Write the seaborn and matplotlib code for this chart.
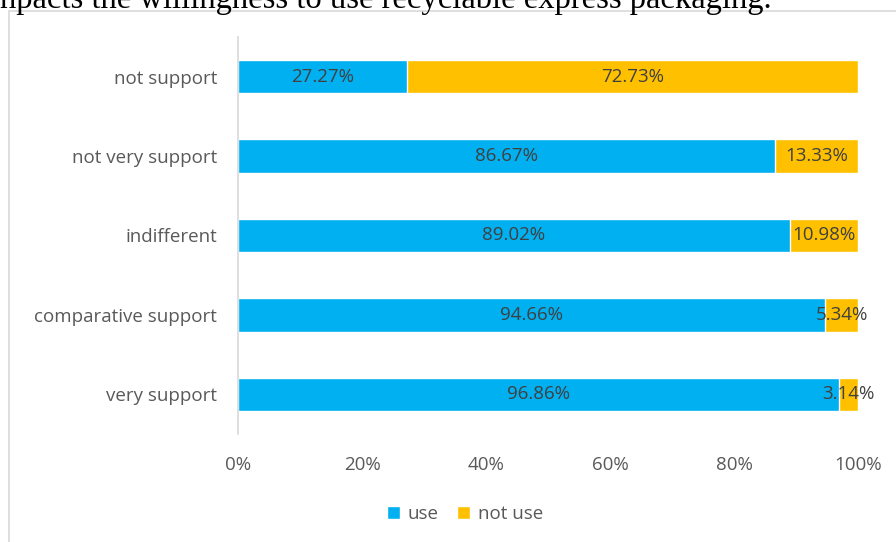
import matplotlib
matplotlib.use("Agg")
import matplotlib.pyplot as plt
from matplotlib.patches import Patch
import seaborn as sns
import pandas as pd

# Support level categories (top to bottom)
categories = ["not support", "not very support", "indifferent",
              "comparative support", "very support"]
use_pct = [27.27, 86.67, 89.02, 94.66, 96.86]
not_use_pct = [72.73, 13.33, 10.98, 5.34, 3.14]
tick_labels = ["0%", "20%", "40%", "60%", "80%", "100%"]

BLUE = "#00B0F0"
ORANGE = "#FFC000"
LABEL_GRAY = "#595959"
VALUE_GRAY = "#404040"

sns.set_theme(style="white")
plt.rcParams["font.family"] = ["Open Sans", "DejaVu Sans"]

df = pd.DataFrame({
    "category": categories,
    "use": use_pct,
    "not use": not_use_pct,
})
df["total"] = df["use"] + df["not use"]

fig = plt.figure(figsize=(8.96, 5.42), dpi=100)

# Caption line above the chart frame
fig.text(0.0, 1 - 8 / 542, "npacts the willingness to use recyclable express packaging.",
         family="Liberation Serif", fontsize=23.5, color="black",
         ha="left", va="baseline")

# Chart frame
frame = plt.Rectangle((9 / 896, -0.02), 1.0, 1 - 11 / 542 + 0.02,
                      transform=fig.transFigure, fill=False,
                      edgecolor="#D9D9D9", linewidth=1.2)
fig.patches.append(frame)

ax = fig.add_axes([238 / 896, 108 / 542, 620 / 896, 397 / 542])

# Stacked bars: full-length "not use" underneath, "use" drawn over it
sns.barplot(data=df, y="category", x="total", order=categories,
            color=ORANGE, width=0.42, orient="h", ax=ax, saturation=1)
sns.barplot(data=df, y="category", x="use", order=categories,
            color=BLUE, width=0.42, orient="h", ax=ax, saturation=1)

ax.set_xlim(0, 100)
ax.set_ylim(4.5, -0.5)
ax.set_xticks([0, 20, 40, 60, 80, 100])
ax.set_xticklabels(tick_labels)
ax.set_xlabel("")
ax.set_ylabel("")

for side in ["top", "right", "bottom"]:
    ax.spines[side].set_visible(False)
ax.spines["left"].set_color("#D9D9D9")
ax.spines["left"].set_linewidth(1.2)

ax.tick_params(axis="both", length=0, labelsize=13.5, colors=LABEL_GRAY)
ax.tick_params(axis="y", pad=15)
ax.tick_params(axis="x", pad=16)

# Value labels centred in each segment
for i, (u, n) in enumerate(zip(use_pct, not_use_pct)):
    ax.text(u / 2, i, f"{u:.2f}%", ha="center", va="center",
            fontsize=13.5, color=VALUE_GRAY)
    ax.text(u + n / 2, i, f"{n:.2f}%", ha="center", va="center",
            fontsize=13.5, color=VALUE_GRAY)

handles = [Patch(facecolor=BLUE, label="use"),
           Patch(facecolor=ORANGE, label="not use")]
fig.legend(handles=handles, loc="center", bbox_to_anchor=(465 / 896, 1 - 514 / 542),
           ncol=2, frameon=False, fontsize=13.5, handlelength=0.7, handleheight=0.7,
           handletextpad=0.4, columnspacing=1.0, labelcolor=LABEL_GRAY)

fig.savefig("out.png", dpi=100)
